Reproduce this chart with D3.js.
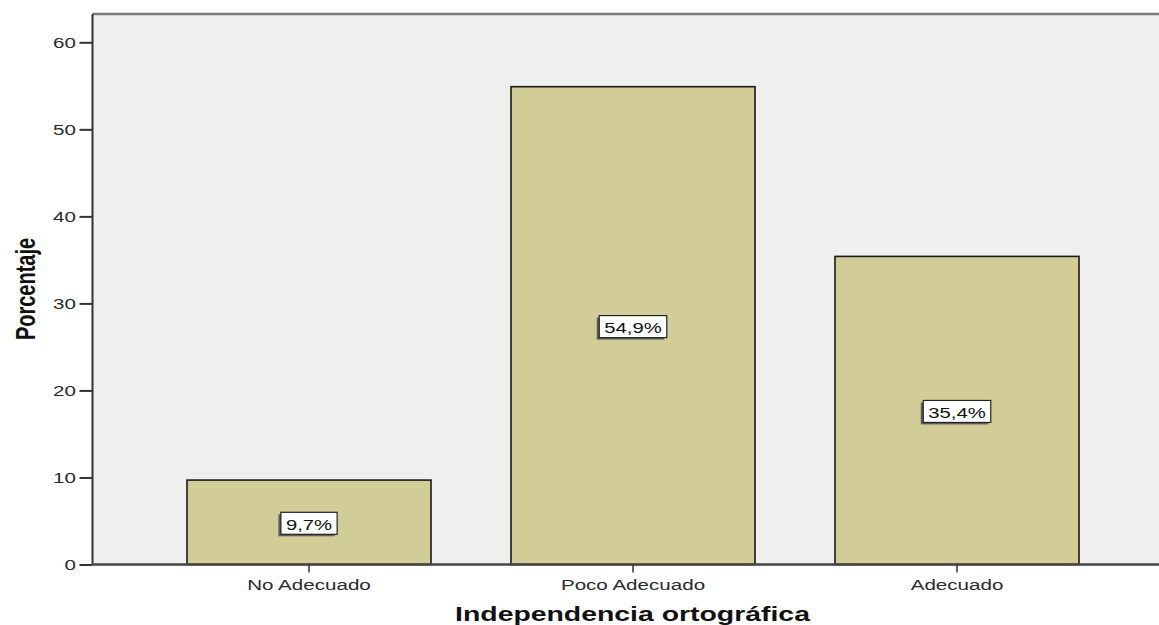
<!DOCTYPE html>
<html>
<head>
<meta charset="utf-8">
<script src="https://cdn.jsdelivr.net/npm/d3@7"></script>
<style>
  body { margin: 0; background: #fff; }
  text { font-family: "Liberation Sans", Arial, sans-serif; }
</style>
</head>
<body>
<script>
// datos del gráfico
var categorias = ["No Adecuado", "Poco Adecuado", "Adecuado"];
var porcentajes = [9.7, 54.9, 35.4];
var etiquetas = ["9,7%", "54,9%", "35,4%"];
var yTicks = [0, 10, 20, 30, 40, 50, 60];

var w = 1159, h = 625;
var margin = {top: 14, right: 0, bottom: 60, left: 92.5};
var y0 = 564.5;
var sx = 1.42; // étirement horizontal du texte

var svg = d3.select("body").append("svg")
    .attr("width", w)
    .attr("height", h);

var y = d3.scaleLinear().domain([0, 60]).range([y0, 42.3]);
var x = d3.scaleBand().domain(categorias)
    .range([147, 1119])
    .paddingInner(80 / 324)
    .paddingOuter(40 / 324);

// fond du graphique
svg.append("rect")
    .attr("x", margin.left)
    .attr("y", margin.top)
    .attr("width", w - margin.left)
    .attr("height", y0 - margin.top)
    .attr("fill", "#efefef");

// barres
svg.append("g").selectAll("rect")
    .data(porcentajes)
    .enter()
    .append("rect")
    .attr("x", function(d, i) { return x(categorias[i]); })
    .attr("y", function(d) { return y(d); })
    .attr("width", x.bandwidth())
    .attr("height", function(d) { return y0 - y(d); })
    .attr("fill", "#d2cd97")
    .attr("stroke", "#1a1a1a")
    .attr("stroke-width", 1.6);

// top border
svg.append("line")
    .attr("x1", margin.left).attr("x2", w)
    .attr("y1", margin.top).attr("y2", margin.top)
    .attr("stroke", "#7a7a7a").attr("stroke-width", 2.5);

// axe Y
var yAxis = d3.axisLeft(y).tickValues(yTicks).tickSize(13);
var gy = svg.append("g")
    .attr("transform", "translate(" + margin.left + ",0)")
    .call(yAxis);
gy.select(".domain").attr("d", "M0," + margin.top + "V" + y0).attr("stroke", "#333").attr("stroke-width", 2);
gy.selectAll(".tick line").attr("stroke", "#333").attr("stroke-width", 2);
gy.selectAll(".tick text")
    .attr("x", 0)
    .attr("dy", "0.36em")
    .attr("transform", "translate(-16.5,0) scale(" + sx + ",1)")
    .attr("font-size", 14.5)
    .attr("fill", "#2a2a2a")
    .style("font-family", "\"Liberation Sans\", Arial, sans-serif");

// axe X
var xAxis = d3.axisBottom(x).tickSize(8);
var gx = svg.append("g")
    .attr("transform", "translate(0," + y0 + ")")
    .call(xAxis);
gx.select(".domain").attr("d", "M" + margin.left + ",0H" + w).attr("stroke", "#444").attr("stroke-width", 2.5);
gx.selectAll(".tick line").attr("stroke", "#333").attr("stroke-width", 1.5);
gx.selectAll(".tick text")
    .attr("y", 0)
    .attr("dy", 0)
    .attr("transform", "translate(0,25) scale(" + sx + ",1)")
    .attr("font-size", 14.5)
    .attr("fill", "#2a2a2a")
    .style("font-family", "\"Liberation Sans\", Arial, sans-serif");

// étiquettes de valeurs
var lab = svg.append("g").selectAll("g")
    .data(porcentajes)
    .enter()
    .append("g")
    .attr("transform", function(d, i) {
        return "translate(" + (x(categorias[i]) + x.bandwidth() / 2) + "," + ((y(d) + y0) / 2) + ")";
    });

lab.each(function(d, i) {
    var g = d3.select(this);
    var t = g.append("text")
        .text(etiquetas[i])
        .attr("text-anchor", "middle")
        .attr("y", 7.5)
        .attr("transform", "scale(1.45,1)")
        .attr("font-size", 14)
        .attr("fill", "#111");
    var bw = t.node().getBBox().width * 1.45 + 10;
    g.insert("rect", "text")
        .attr("x", -bw / 2 - 2.5).attr("y", -10 + 2)
        .attr("width", bw).attr("height", 22)
        .attr("fill", "#5e5e5e");
    g.insert("rect", "text")
        .attr("x", -bw / 2).attr("y", -10)
        .attr("width", bw).attr("height", 22)
        .attr("fill", "#fff")
        .attr("stroke", "#222")
        .attr("stroke-width", 1.2);
});

// titres des axes
svg.append("text")
    .text("Porcentaje")
    .attr("transform", "translate(35,289) scale(" + sx + ",1) rotate(-90)")
    .attr("text-anchor", "middle")
    .attr("font-size", 20)
    .attr("font-weight", "bold")
    .attr("fill", "#111");

svg.append("text")
    .text("Independencia ortográfica")
    .attr("transform", "translate(632.5,621) scale(" + sx + ",1)")
    .attr("text-anchor", "middle")
    .attr("font-size", 20)
    .attr("font-weight", "bold")
    .attr("fill", "#111");
</script>
</body>
</html>
